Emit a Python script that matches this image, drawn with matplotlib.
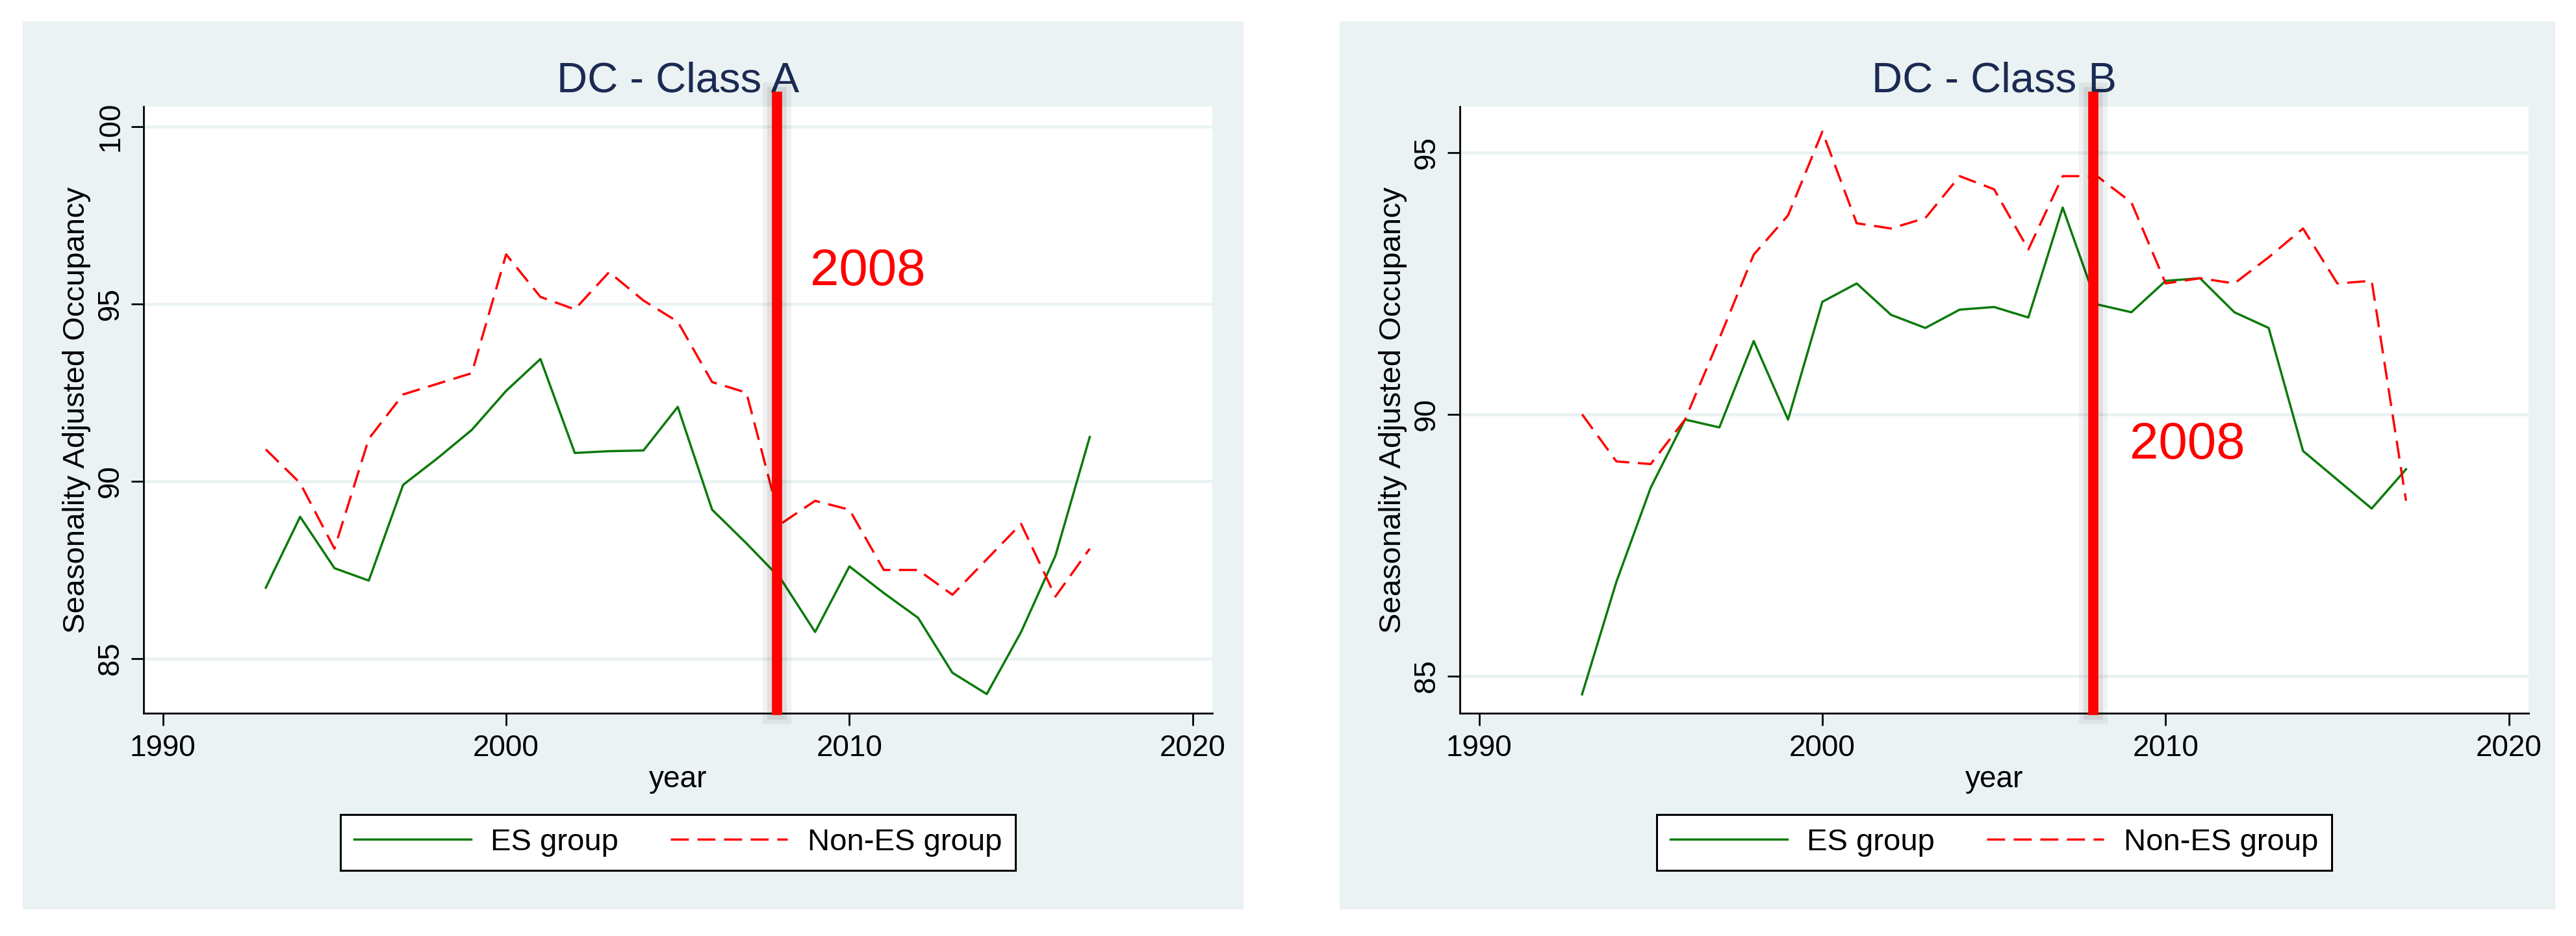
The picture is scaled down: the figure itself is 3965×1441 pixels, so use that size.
import numpy as np
import matplotlib
matplotlib.use('Agg')
import matplotlib.pyplot as plt
from matplotlib.patches import Rectangle

plt.rcParams['font.family'] = ['Liberation Sans', 'DejaVu Sans']

# values (seasonality adjusted occupancy, %)
years = np.arange(1993, 2018)

class_a_es = [87.0, 89.0, 87.55, 87.2, 89.9, 90.65, 91.45, 92.55, 93.45, 90.8,
              90.85, 90.87, 92.1, 89.2, 88.25, 87.25, 85.75, 87.6, 86.85, 86.15,
              84.6, 84.0, 85.75, 87.9, 91.25]
class_a_non = [90.9, 89.95, 88.1, 91.2, 92.45, 92.75, 93.05, 96.4, 95.2, 94.85,
               95.9, 95.1, 94.5, 92.8, 92.5, 88.8, 89.45, 89.2, 87.5, 87.5,
               86.8, 87.8, 88.8, 86.75, 88.1]
class_b_es = [84.65, 86.8, 88.6, 89.9, 89.75, 91.4, 89.9, 92.15, 92.5, 91.9,
              91.65, 92.0, 92.05, 91.85, 93.95, 92.1, 91.95, 92.55, 92.6, 91.95,
              91.65, 89.3, 88.75, 88.2, 88.95]
class_b_non = [90.0, 89.1, 89.05, 89.9, 91.45, 93.05, 93.8, 95.4, 93.65, 93.55,
               93.75, 94.55, 94.3, 93.15, 94.55, 94.55, 94.05, 92.5, 92.6, 92.5,
               93.0, 93.55, 92.5, 92.55, 88.35]

titles = ['DC - Class A', 'DC - Class B']
es_series = [class_a_es, class_b_es]
non_series = [class_a_non, class_b_non]
x_ticks = [1990, 2000, 2010, 2020]
y_ticks = [[85, 90, 95, 100], [85, 90, 95]]
y_lims = [(83.46, 100.57), (84.29, 95.88)]
note_text = '2008'
note_pos = [(2008.85, 95.54), (2008.95, 89.15)]
crisis_x = 2007.9

bg = '#eaf2f3'
W, H = 3966.0, 1441.0
fig = plt.figure(figsize=(W / 100, H / 100), dpi=100, facecolor='white')

panel_bg = [(35, 1914), (2062, 3933)]
axes_left = [221, 2247]

for i in range(2):
    x0, x1 = panel_bg[i]
    fig.add_artist(Rectangle((x0 / W, 1 - 1400 / H), (x1 - x0) / W, (1400 - 33) / H,
                             transform=fig.transFigure, facecolor=bg,
                             edgecolor='none', zorder=-1))
    ax = fig.add_axes([axes_left[i] / W, 1 - 1098 / H, 1645 / W, 934 / H])
    ax.set_facecolor('white')

    l1, = ax.plot(years, es_series[i], color='#0a7a0a', lw=2.5, label='ES group', zorder=2)
    l2, = ax.plot(years, non_series[i], color='#ff0000', lw=2.5, dashes=(8, 3.8),
                  label='Non-ES group', zorder=2)

    # 2008 marker with a soft see-through shadow
    ax.axvline(crisis_x, ymin=0.005, ymax=1.016, color='black', alpha=0.05, lw=31.7,
               clip_on=False, zorder=3)
    ax.axvline(crisis_x, ymin=0.005, ymax=1.016, color='black', alpha=0.075, lw=21.6,
               clip_on=False, zorder=4)
    ax.axvline(crisis_x, ymin=0.005, ymax=1.016, color='#ff0000', lw=11.3, clip_on=False, zorder=5)
    ax.text(note_pos[i][0], note_pos[i][1], note_text, color='#ff0000', fontsize=57.5,
            ha='left', va='baseline', zorder=6)

    ax.set_xlim(1989.44, 2020.57)
    ax.set_ylim(*y_lims[i])
    ax.set_xticks(x_ticks)
    ax.set_yticks(y_ticks[i])

    ax.yaxis.grid(True, color=bg, linewidth=3.4)
    ax.set_axisbelow(True)
    for s in ['top', 'right']:
        ax.spines[s].set_visible(False)
    for s in ['left', 'bottom']:
        ax.spines[s].set_linewidth(2)
        ax.spines[s].set_color('black')

    ax.tick_params(axis='both', direction='out', length=13.7, width=2, labelsize=33, colors='black')
    ax.tick_params(axis='x', pad=9.4)
    ax.tick_params(axis='y', pad=7, labelrotation=90)
    plt.setp(ax.get_yticklabels(), va='center')

    ax.set_title(titles[i], fontsize=47, color='#1b2a52', pad=16)
    ax.set_ylabel('Seasonality Adjusted Occupancy', fontsize=34, labelpad=6)
    ax.set_xlabel('year', fontsize=33, labelpad=3)

    leg = ax.legend(handles=[l1, l2], loc='center', bbox_to_anchor=(0.5, -0.213), ncol=2,
                    fontsize=34, frameon=True, fancybox=False, edgecolor='black',
                    framealpha=1, borderpad=0.45, handlelength=3.8, handletextpad=0.65,
                    columnspacing=1.7)
    leg.get_frame().set_linewidth(2.2)

fig.savefig('out.png', dpi=100)
